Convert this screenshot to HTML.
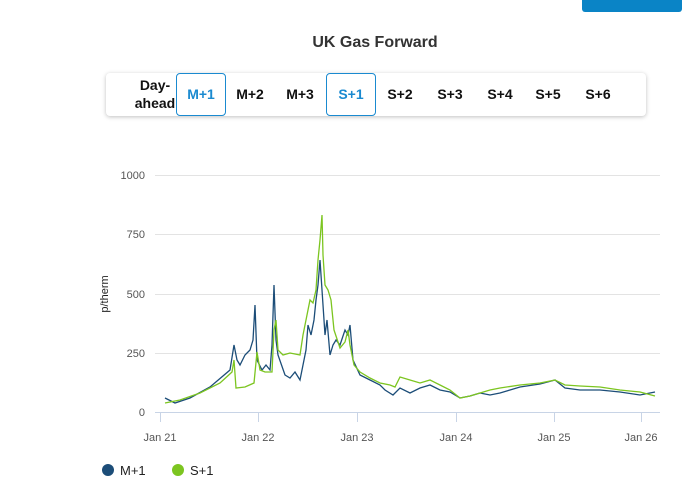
<!DOCTYPE html><html><head><meta charset="utf-8"><style>
body{margin:0;width:689px;height:497px;background:#fff;font-family:"Liberation Sans",sans-serif;position:relative;overflow:hidden}
.btn{position:absolute;top:0;left:582px;width:100px;height:12px;background:#0a84c6;border-radius:0 0 3px 3px}
.title{position:absolute;top:34px;left:0;width:750px;text-align:center;font-size:16px;font-weight:bold;color:#333}
.bar{position:absolute;left:106px;top:73px;width:540px;height:43px;background:#fff;border-radius:4px;box-shadow:0 1px 4px rgba(0,0,0,.25)}
.b{position:absolute;top:0;height:43px;line-height:43px;font-weight:bold;font-size:14px;color:#111;text-align:center}
.sel{border:1px solid #1a8ad0;border-radius:4px;color:#1a8ad0;height:41px;line-height:41px}
</style></head><body>
<div class="btn"></div>
<div class="title">UK Gas Forward</div>
<div class="bar">
<div class="b" style="left:24px;width:50px;line-height:18px;top:3px">Day-<br>ahead</div>
<div class="b sel" style="left:70px;width:48px">M+1</div>
<div class="b" style="left:122px;width:44px">M+2</div>
<div class="b" style="left:172px;width:44px">M+3</div>
<div class="b sel" style="left:220px;width:48px">S+1</div>
<div class="b" style="left:272px;width:44px">S+2</div>
<div class="b" style="left:322px;width:44px">S+3</div>
<div class="b" style="left:372px;width:44px">S+4</div>
<div class="b" style="left:420px;width:44px">S+5</div>
<div class="b" style="left:470px;width:44px">S+6</div>
</div>
<svg width="689" height="497" style="position:absolute;left:0;top:0" font-family="Liberation Sans,sans-serif">
<g stroke="#e3e3e3" stroke-width="1">
<line x1="155" x2="660" y1="175.5" y2="175.5"/><line x1="155" x2="660" y1="234.5" y2="234.5"/><line x1="155" x2="660" y1="294.5" y2="294.5"/><line x1="155" x2="660" y1="353.5" y2="353.5"/>
</g>
<line x1="155" x2="660" y1="412.5" y2="412.5" stroke="#c8d4e6"/>
<g stroke="#c8d4e6"><line x1="160.5" x2="160.5" y1="412" y2="422"/><line x1="258.5" x2="258.5" y1="412" y2="422"/><line x1="357.5" x2="357.5" y1="412" y2="422"/><line x1="456.5" x2="456.5" y1="412" y2="422"/><line x1="554.5" x2="554.5" y1="412" y2="422"/><line x1="641.5" x2="641.5" y1="412" y2="422"/></g>
<g font-size="11" fill="#555" text-anchor="end"><text x="145" y="179">1000</text><text x="145" y="238">750</text><text x="145" y="298">500</text><text x="145" y="357">250</text><text x="145" y="416">0</text></g>
<g font-size="11" fill="#555" text-anchor="middle"><text x="160" y="441">Jan 21</text><text x="258" y="441">Jan 22</text><text x="357" y="441">Jan 23</text><text x="456" y="441">Jan 24</text><text x="554" y="441">Jan 25</text><text x="641" y="441">Jan 26</text></g>
<text transform="translate(108,294) rotate(-90)" font-size="11" fill="#222" text-anchor="middle">p/therm</text>
<polyline fill="none" stroke="#1c4d78" stroke-width="1.3" points="165,398 175,403 190,398 210,387 230,370 234,345 237,360 240,365 245,355 250,350 253,340 255,305 257,360 262,370 266,365 270,370 272,345 274,285 276,340 278,355 285,375 290,378 295,372 300,380 303,365 306,350 308,325 311,335 314,320 316,300 318,285 320,260 322,290 325,335 327,320 330,355 333,345 336,340 340,345 345,330 348,335 350,325 353,360 360,375 370,380 380,385 385,390 393,395 400,388 410,393 420,388 430,385 440,390 450,392 460,398 470,396 480,393 490,395 500,393 510,390 520,387 540,384 555,380 565,388 580,390 600,390 620,392 640,395 655,392"/>
<polyline fill="none" stroke="#7cc520" stroke-width="1.3" points="165,403 180,400 200,393 220,383 232,372 234,360 236,388 245,387 254,383 257,352 260,370 265,372 272,372 274,330 276,320 278,350 283,355 290,353 300,355 303,335 307,315 310,300 313,303 316,290 318,260 320,240 322,215 323,255 325,285 328,290 331,300 334,330 340,348 345,342 348,330 350,345 354,365 360,372 370,378 380,383 390,385 395,387 400,377 410,380 420,383 430,380 440,385 450,390 460,398 470,396 480,393 490,390 500,388 520,385 540,383 555,380 565,385 580,386 600,387 620,390 640,392 655,396"/>
<circle cx="108" cy="470" r="6" fill="#1c4d78"/><text x="120" y="475" font-size="13" fill="#222">M+1</text>
<circle cx="178" cy="470" r="6" fill="#7cc520"/><text x="190" y="475" font-size="13" fill="#222">S+1</text>
</svg>
</body></html>
